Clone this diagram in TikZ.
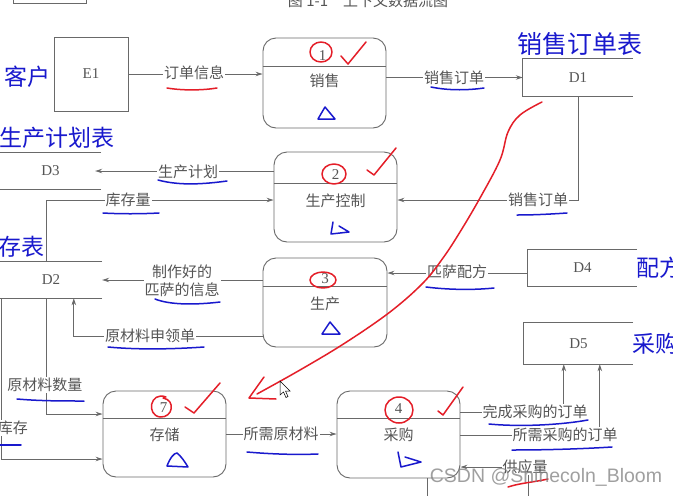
\documentclass[tikz,border=0pt]{standalone}
\usepackage{fontspec}
\setmainfont{Liberation Serif}
\newfontfamily\cjk{Noto Sans CJK SC}
\newfontfamily\wmfont{Liberation Sans}
\usetikzlibrary{arrows.meta,calc}
\definecolor{linec}{RGB}{105,105,105}
\definecolor{textc}{RGB}{85,85,85}
\definecolor{annblue}{RGB}{25,25,205}
\definecolor{annred}{RGB}{228,30,40}
\begin{document}
\begin{tikzpicture}[x=1pt,y=-1pt,
  conn/.style={draw=linec, line width=0.9pt},
  flow/.style={conn, -{Stealth[length=7pt,width=4.5pt]}},
  proc/.style={draw=linec, line width=0.9pt, rounded corners=13pt, inner sep=0pt},
  ent/.style={draw=linec, line width=0.9pt, inner sep=0pt, text=textc, font=\fontsize{15}{15}\selectfont},
  store/.style={inner sep=0pt, text=textc, font=\fontsize{15}{15}\selectfont},
  lbl/.style={fill=white, inner sep=1pt, text=textc, font=\cjk\fontsize{15}{18}\selectfont},
  numt/.style={inner sep=0pt, text=textc, font=\fontsize{15}{15}\selectfont},
  namet/.style={inner sep=0pt, text=textc, font=\cjk\fontsize{15}{15}\selectfont},
  btxt/.style={inner sep=0pt, text=annblue, font=\cjk\fontsize{23}{23}\selectfont},
  bpen/.style={draw=annblue, line width=1.5pt, line cap=round, line join=round},
  rpen/.style={draw=annred, line width=1.5pt, line cap=round, line join=round}
]
\useasboundingbox (0,0) rectangle (673,496);
\fill[white] (0,0) rectangle (673,496);

% top remnants
\draw[conn] (13,-5) -- (13,3) -- (86,3) -- (86,-5);
\node[inner sep=0pt, text=textc, font=\cjk\fontsize{15}{15}\selectfont] (title) at (368,1) {图 1-1\quad 上下文数据流图};

% external entity
\node[ent, minimum width=74pt, minimum height=74pt] (E1) at (91,74) {E1};

% processes
\node[proc, minimum width=123pt, minimum height=90pt] (P1) at (324.5,83) {};
\node[proc, minimum width=123pt, minimum height=90pt] (P2) at (335.5,197) {};
\node[proc, minimum width=124pt, minimum height=89pt] (P3) at (325,302.5) {};
\node[proc, minimum width=123pt, minimum height=86pt] (P7) at (164.5,434) {};
\node[proc, minimum width=123pt, minimum height=87pt] (P4) at (398.5,434.5) {};

\draw[conn] ($(P1.north west)+(0,29)$) -- ($(P1.north east)+(0,29)$);
\draw[conn] ($(P2.north west)+(0,32)$) -- ($(P2.north east)+(0,32)$);
\draw[conn] ($(P3.north west)+(0,29)$) -- ($(P3.north east)+(0,29)$);
\draw[conn] ($(P7.north west)+(0,28)$) -- ($(P7.north east)+(0,28)$);
\draw[conn] ($(P4.north west)+(0,28)$) -- ($(P4.north east)+(0,28)$);

\node[numt] (n1) at ($(P1.north)+(-2,18)$) {1};
\node[namet] (m1) at ($(P1.north)+(0,43)$) {销售};
\node[numt] (n2) at ($(P2.north)+(0,23)$) {2};
\node[namet] (m2) at ($(P2.north)+(0,49)$) {生产控制};
\node[numt] (n3) at ($(P3.north)+(0,21)$) {3};
\node[namet] (m3) at ($(P3.north)+(0,46)$) {生产};
\node[numt] (n7) at ($(P7.north)+(-1,17)$) {7};
\node[namet] (m7) at ($(P7.north)+(0,44)$) {存储};
\node[numt] (n4) at ($(P4.north)+(0,18)$) {4};
\node[namet] (m4) at ($(P4.north)+(0,44)$) {采购};

% data stores
\node[store, minimum width=110pt, minimum height=37pt] (D1) at (578,77.5) {D1};
\draw[conn] (D1.north east) -- (D1.north west) -- (D1.south west) -- (D1.south east);
\node[store, minimum width=109pt, minimum height=36pt] (D4) at (582.5,268) {D4};
\draw[conn] (D4.north east) -- (D4.north west) -- (D4.south west) -- (D4.south east);
\node[store, minimum width=109pt, minimum height=41pt] (D5) at (578.5,343.5) {D5};
\draw[conn] (D5.north east) -- (D5.north west) -- (D5.south west) -- (D5.south east);
\node[store, minimum width=101pt, minimum height=36pt] (D3) at (50.5,171) {D3};
\draw[conn] (D3.north east) -- ($(D3.north west)+(-5,0)$);
\draw[conn] (D3.south east) -- ($(D3.south west)+(-5,0)$);
\node[store, minimum width=102pt, minimum height=36pt] (D2) at (51,280) {D2};
\draw[conn] (D2.north east) -- ($(D2.north west)+(-5,0)$);
\draw[conn] (D2.south east) -- ($(D2.south west)+(-5,0)$);

% free ends
\coordinate (sup) at (528,505);
\coordinate (out4) at (427,505);

% connectors
\draw[flow] (E1.east) -- (E1.east -| P1.west);
\draw[flow] (P1.east |- D1.west) -- (D1.west);
\draw[flow] (D1.south) |- ($(P2.east)+(0,3)$);
\draw[flow] (P2.west |- D3.east) -- ($(D3.east)+(-6,0)$);
\draw[flow] ($(D2.north west)+(47,0)$) |- ($(P2.west)+(0,3)$);
\draw[flow] (P3.west |- D2.east) -- (D2.east);
\draw[flow] ($(P3.west)+(0,33.5)$) -| ($(D2.south west)+(74,0)$);
\draw[flow] ($(D4.west)+(0,5)$) -- ($(P3.east)+(0,-29.5)$);
\draw[flow] ($(D2.south west)+(47,0)$) |- ($(P7.west)+(0,-20)$);
\draw[flow] ($(D2.south west)+(2,0)$) |- ($(P7.west)+(0,25)$);
\draw[flow] (P7.east) -- (P7.east -| P4.west);
\draw[flow] ($(P4.east)+(0,-22.5)$) -| ($(D5.south west)+(40,0)$);
\draw[flow] ($(P4.east)+(0,0.5)$) -| ($(D5.south west)+(76,0)$);
\draw[flow] (sup) |- ($(P4.east)+(0,32.5)$);
\draw[conn] ($(P4.south)+(28.5,0)$) -- (out4);

% flow labels
\node[lbl] (l1) at (194,73) {订单信息};
\node[lbl] (l2) at (454,78) {销售订单};
\node[lbl] (l3) at (538,200) {销售订单};
\node[lbl] (l4) at (188,172) {生产计划};
\node[lbl] (l5) at (128,200) {库存量};
\node[lbl, align=center] (l6) at (182,281) {制作好的\\匹萨的信息};
\node[lbl] (l7) at (150,336) {原材料申领单};
\node[lbl] (l8) at (457,272) {匹萨配方};
\node[lbl] (l9) at (45,385) {原材料数量};
\node[lbl] (l10) at (13,428) {库存};
\node[lbl] (l11) at (281,434) {所需原材料};
\node[lbl] (l12) at (535,412) {完成采购的订单};
\node[lbl] (l13) at (565,435) {所需采购的订单};
\node[lbl] (l14) at (525,467) {供应量};

% blue handwritten names
\node[btxt] (b1) at (28,77) {客户};
\node[btxt, font=\cjk\fontsize{25}{25}\selectfont] (b2) at (580,44) {销售订单表};
\node[btxt, anchor=east] (b3) at (115,138) {生产计划表};
\node[btxt, anchor=east] (b4) at (45,247) {库存表};
\node[btxt, anchor=west] (b5) at (636,268) {配方表};
\node[btxt, anchor=west] (b6) at (632,344) {采购表};

% blue underlines
\draw[bpen] (431,87) .. controls (450,91) and (470,90) .. (484,88);
\draw[bpen] (158,180) .. controls (180,186) and (205,184) .. (227,181);
\draw[bpen] (103,213) .. controls (120,214) and (140,214) .. (159,213);
\draw[bpen] (517,215) .. controls (535,215) and (552,214) .. (567,213);
\draw[bpen] (155,299) .. controls (170,305) and (195,305) .. (220,302);
\draw[bpen] (108,347) .. controls (140,350) and (175,349) .. (204,347);
\draw[bpen] (426,287) .. controls (450,290) and (475,290) .. (494,288);
\draw[bpen] (17,399) .. controls (40,401) and (62,401) .. (84,401);
\draw[bpen] (0,445) -- (21,445);
\draw[bpen] (247,452) .. controls (270,454) and (295,455) .. (318,454);
\draw[bpen] (489,424) .. controls (520,427) and (560,425) .. (588,420);
\draw[bpen] (512,450) .. controls (545,450) and (580,449) .. (612,447);

% blue triangles
\draw[bpen] (318,119) -- (325,107) -- (335,119) -- cycle;
\draw[bpen] (333,222) -- (331,234) -- (349,232) -- (339,226);
\draw[bpen] (322,334) -- (330,322) -- (340,334) -- cycle;
\draw[bpen] (167,466) .. controls (170,458) and (174,453) .. (177,453) .. controls (181,456) and (185,462) .. (188,467) -- cycle;
\draw[bpen] (398,452) -- (401,467) -- (421,462) -- (405,457);

% red annotations
\draw[rpen] (167,88) .. controls (185,91) and (205,90) .. (217,88);
\draw[rpen] (508,487) .. controls (520,483) and (535,482) .. (548,479);
\draw[rpen] (321,52) ellipse [x radius=11, y radius=10];
\draw[rpen] (334,174) ellipse [x radius=12, y radius=10];
\draw[rpen] (323,280) ellipse [x radius=13, y radius=8];
\draw[rpen] (399,410) ellipse [x radius=14, y radius=13];
\draw[rpen] (166,397) .. controls (150,391) and (146,415) .. (160,417) .. controls (173,418) and (176,400) .. (163,398);
\draw[rpen] (341,56) -- (348,64) -- (366,42);
\draw[rpen] (367,170) -- (374,175) -- (396,148);
\draw[rpen] (185,407) -- (194,413) -- (220,383);
\draw[rpen] (438,411) -- (443,415) -- (463,387);
\draw[rpen] plot[smooth, tension=0.6] coordinates {(542,102) (520,115) (508,132) (500,160) (480,198) (460,232) (443,258) (423,283) (390,312) (345,343) (300,370) (257,394)};
\draw[rpen] (264,377) -- (249,398) -- (276,399);

% mouse pointer
\draw[black, fill=white, line width=0.5pt] (280,381) -- (280,395) -- (283.5,392) -- (286,397.5) -- (288,396.5) -- (285.5,391) -- (290,391) -- cycle;

% watermark
\node[inner sep=0pt, text=gray, opacity=0.75, font=\wmfont\fontsize{19.5}{20}\selectfont] (wm) at (546,477) {CSDN @Shinecoln\_Bloom};
\end{tikzpicture}
\end{document}
